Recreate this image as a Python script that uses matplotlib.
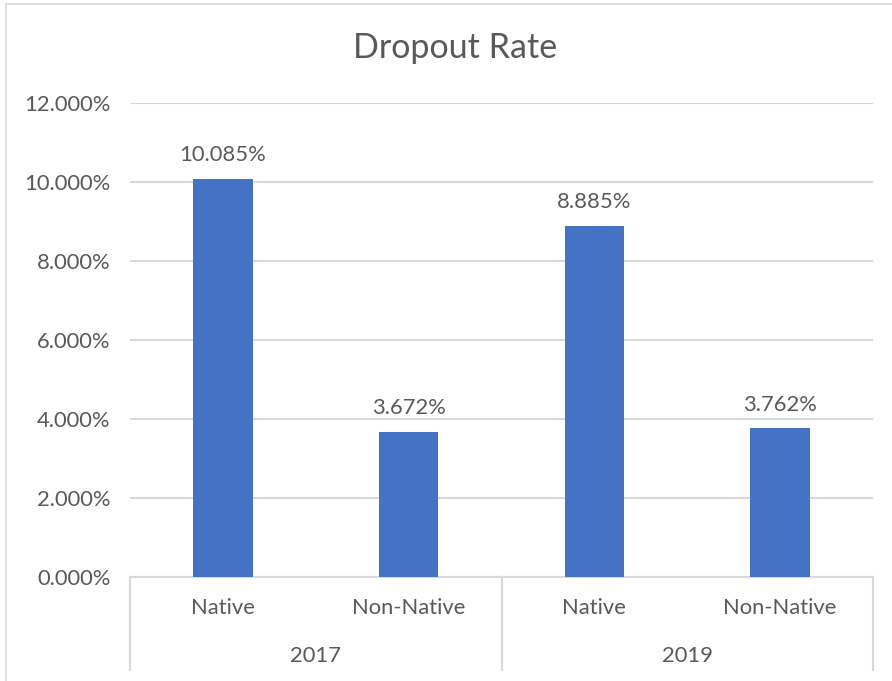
import matplotlib
matplotlib.use('Agg')
import matplotlib.pyplot as plt
from matplotlib.patches import Rectangle
from matplotlib.ticker import FuncFormatter

plt.rcParams['font.family'] = ['Lato', 'DejaVu Sans']

# data
years = ['2017', '2019']
groups = ['Native', 'Non-Native']
rates = [10.085, 3.672, 8.885, 3.762]  # percent, in order 2017 Native, 2017 Non-Native, 2019 ...
yticks = [0, 2, 4, 6, 8, 10, 12]

text_color = '#595959'
grid_color = '#D9D9D9'
bar_color = '#4472C4'

W, H = 892, 681
fig = plt.figure(figsize=(W / 100, H / 100), dpi=100)

# outer chart border (Excel chart area)
fig.patches.append(Rectangle((6 / W, -0.05), 1.2, 1 - 4 / H + 0.05,
                             transform=fig.transFigure, fill=False,
                             edgecolor=grid_color, lw=1.2))

left, right, top, bottom = 130, 873, 103, 577
ax = fig.add_axes([left / W, 1 - bottom / H, (right - left) / W, (bottom - top) / H])

x = list(range(len(rates)))
ax.bar(x, rates, width=0.32, color=bar_color, zorder=3)
ax.set_xlim(-0.5, len(rates) - 0.5)
ax.set_ylim(0, 12)
ax.set_yticks(yticks)
ax.yaxis.set_major_formatter(FuncFormatter(lambda v, p: '%.3f%%' % v))
ax.tick_params(axis='y', length=0, pad=14, labelsize=15.8, labelcolor=text_color)
ax.set_xticks([])
ax.yaxis.grid(True, color=grid_color, lw=1.5, zorder=0)
for s in ['top', 'right', 'left']:
    ax.spines[s].set_visible(False)
ax.spines['bottom'].set_color(grid_color)
ax.spines['bottom'].set_linewidth(1.5)

# data labels
for xi, v in zip(x, rates):
    ax.text(xi, v + 0.35, '%.3f%%' % v, ha='center', va='bottom',
            fontsize=15.8, color=text_color)

# multi-level category axis
trans = ax.get_xaxis_transform()
line_bottom = -(670 - bottom) / (bottom - top)
for xv in [-0.5, 1.5, 3.5]:
    ax.plot([xv, xv], [0, line_bottom], transform=trans, color=grid_color,
            lw=1.5, clip_on=False)
for i, xi in enumerate(x):
    ax.text(xi, -(608 - bottom) / (bottom - top), groups[i % 2], transform=trans,
            ha='center', va='center', fontsize=15.8, color=text_color)
for j, yr in enumerate(years):
    ax.text(2 * j + 0.5, -(656 - bottom) / (bottom - top), yr, transform=trans,
            ha='center', va='center', fontsize=15.8, color=text_color)

fig.text(455 / W, 1 - 48 / H, 'Dropout Rate', ha='center', va='center',
         fontsize=24.5, color=text_color)

fig.savefig('out.png', dpi=100)
